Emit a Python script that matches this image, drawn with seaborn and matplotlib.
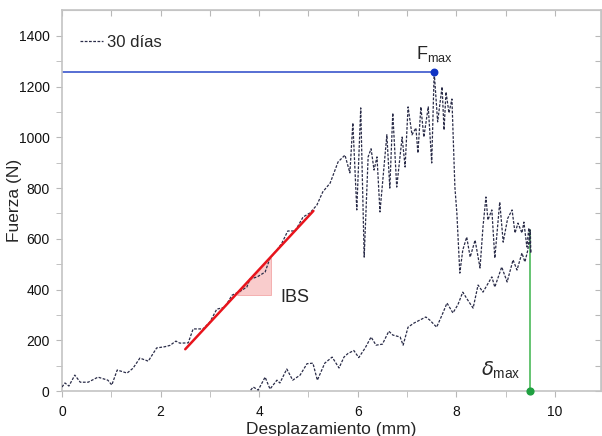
import matplotlib
matplotlib.use("Agg")
import matplotlib.pyplot as plt
import seaborn as sns
import pandas as pd

# carga (rama superior) y rama inferior
upper_x = [0.00, 0.06, 0.14, 0.26, 0.37, 0.53, 0.73, 0.93, 1.01, 1.12, 1.32, 1.44, 1.58, 1.75,
           1.92, 2.09, 2.19, 2.31, 2.39, 2.56, 2.66, 2.86, 3.00, 3.14, 3.30, 3.45, 3.60, 3.75,
           3.81, 3.96, 4.12, 4.22, 4.36, 4.46, 4.58, 4.73, 4.89, 5.03, 5.17, 5.29, 5.44, 5.60,
           5.74, 5.84, 5.90, 5.98, 6.06, 6.13, 6.21, 6.27, 6.33, 6.39, 6.45, 6.59, 6.65, 6.71,
           6.79, 6.90, 6.96, 7.02, 7.10, 7.18, 7.22, 7.28, 7.34, 7.43, 7.50, 7.55, 7.62, 7.71,
           7.75, 7.79, 7.85, 7.91, 7.97, 8.01, 8.07, 8.13, 8.21, 8.28, 8.38, 8.48, 8.54, 8.60,
           8.64, 8.72, 8.78, 8.88, 8.95, 9.04, 9.13, 9.19, 9.25, 9.33, 9.37, 9.43, 9.47, 9.51,
           9.50]
upper_y = [16, 32, 20, 63, 35, 35, 55, 43, 24, 83, 71, 90, 130, 118,
           170, 175, 180, 197, 189, 190, 245, 245, 272, 323, 330, 378, 392, 410,
           441, 450, 469, 524, 556, 583, 631, 631, 686, 702, 733, 785, 820, 903,
           930, 860, 1057, 714, 1116, 528, 923, 955, 871, 923, 706, 1010, 800, 1096,
           804, 1001, 883, 1120, 1010, 1037, 938, 1120, 1001, 1120, 899, 1258, 1061, 1199,
           1029, 1179, 1096, 1151, 804, 702, 465, 556, 607, 528, 595, 485, 647, 765,
           674, 714, 524, 745, 587, 680, 714, 623, 662, 623, 666, 568, 643, 544,
           635]
lower_x = [3.81, 3.88, 3.98, 4.12, 4.22, 4.36, 4.42, 4.56, 4.68, 4.83, 4.97, 5.09, 5.18, 5.33,
           5.48, 5.62, 5.72, 5.80, 5.92, 6.02, 6.15, 6.27, 6.37, 6.50, 6.63, 6.71, 6.86, 6.92,
           7.02, 7.14, 7.26, 7.38, 7.46, 7.60, 7.71, 7.81, 7.93, 8.03, 8.13, 8.23, 8.34, 8.44,
           8.54, 8.63, 8.72, 8.78, 8.92, 9.03, 9.15, 9.23, 9.33, 9.39, 9.45, 9.50]
lower_y = [0, 16, 4, 55, 8, 43, 32, 87, 43, 63, 108, 110, 43, 110,
           134, 91, 134, 148, 160, 132, 170, 213, 181, 185, 236, 221, 213, 181,
           252, 268, 280, 292, 280, 252, 300, 347, 308, 340, 390, 359, 327, 418,
           390, 420, 450, 410, 489, 430, 517, 477, 544, 509, 556, 635]

# recta de la rigidez (IBS)
fit_x = [2.5, 5.1]
fit_y = [165, 710]
tri_x = [3.55, 4.24, 4.24]
tri_y = [378, 378, 528]

f_max_x, f_max_y = 7.55, 1258
d_max_x, d_max_top = 9.5, 635

x_major = [0, 2, 4, 6, 8, 10]
y_major = [0, 200, 400, 600, 800, 1000, 1200, 1400]
x_minor = list(range(0, 11))
y_minor = list(range(0, 1500, 100))

curve = pd.DataFrame({
    "x": upper_x + lower_x[::-1],
    "y": upper_y + lower_y[::-1],
})

sns.set_style("ticks")
plt.rcParams["font.family"] = ["Liberation Sans", "DejaVu Sans"]
plt.rcParams["mathtext.fontset"] = "dejavusans"

fig = plt.figure(figsize=(6.02, 4.36), dpi=100)
ax = fig.add_axes([0.103, 0.103, 0.895, 0.873])

ax.fill(tri_x, tri_y, color="#f9cccc", edgecolor="#f3a8a8", linewidth=0.6, zorder=1)
sns.lineplot(data=curve, x="x", y="y", sort=False, estimator=None, ax=ax,
             color="#2a2c48", linewidth=0.9, linestyle=(0, (2.2, 1.2)),
             label="30 días", zorder=3)
ax.plot(fit_x, fit_y, color="#e8141c", linewidth=1.8, zorder=4)

ax.plot([0, f_max_x], [f_max_y, f_max_y], color="#2846c8", linewidth=1.1, zorder=2)
ax.scatter([f_max_x], [f_max_y], color="#1034c4", s=22, zorder=5)
ax.plot([d_max_x, d_max_x], [0, d_max_top], color="#3cb44b", linewidth=1.1, zorder=2)
ax.scatter([d_max_x], [0], color="#1fa040", s=24, zorder=5, clip_on=False)

ax.text(7.55, 1290, r"F$\mathregular{_{max}}$", fontsize=13, ha="center", va="bottom")
ax.text(9.3, 40, r"$\delta_{\mathregular{max}}$", fontsize=14, ha="right", va="bottom")
ax.text(4.42, 370, "IBS", fontsize=13, ha="left", va="center")

ax.set_xlim(0, 10.93)
ax.set_ylim(0, 1500)
ax.set_xticks(x_major)
ax.set_yticks(y_major)
ax.set_xticks(x_minor, minor=True)
ax.set_yticks(y_minor, minor=True)
ax.tick_params(which="both", direction="out", length=4, color="#b8b8b8",
               labelsize=10, labelcolor="#111111", top=False, right=False)
ax.tick_params(which="both", axis="x", pad=6)
ax.tick_params(which="both", axis="y", pad=5)
for s in ax.spines.values():
    s.set_color("#c4c4c4")
    s.set_linewidth(1.2)

# ticks de arriba y derecha hacia dentro
top = ax.secondary_xaxis("top")
top.set_xticks(x_minor)
top.tick_params(direction="in", length=4, color="#b8b8b8", labeltop=False)
top.spines["top"].set_color("#c4c4c4")
right = ax.secondary_yaxis("right")
right.set_yticks(y_minor)
right.tick_params(direction="in", length=4, color="#b8b8b8", labelright=False)
right.spines["right"].set_color("#c4c4c4")

ax.set_xlabel("Desplazamiento (mm)", fontsize=12.5, labelpad=2)
ax.set_ylabel("Fuerza (N)", fontsize=12.5)
ax.yaxis.set_label_coords(-0.075, 0.5)

leg = ax.legend(loc="upper left", frameon=False, fontsize=12, handlelength=1.4,
                handletextpad=0.25, borderaxespad=0.5, bbox_to_anchor=(0.005, 0.975))

fig.savefig("out.png", dpi=100)
